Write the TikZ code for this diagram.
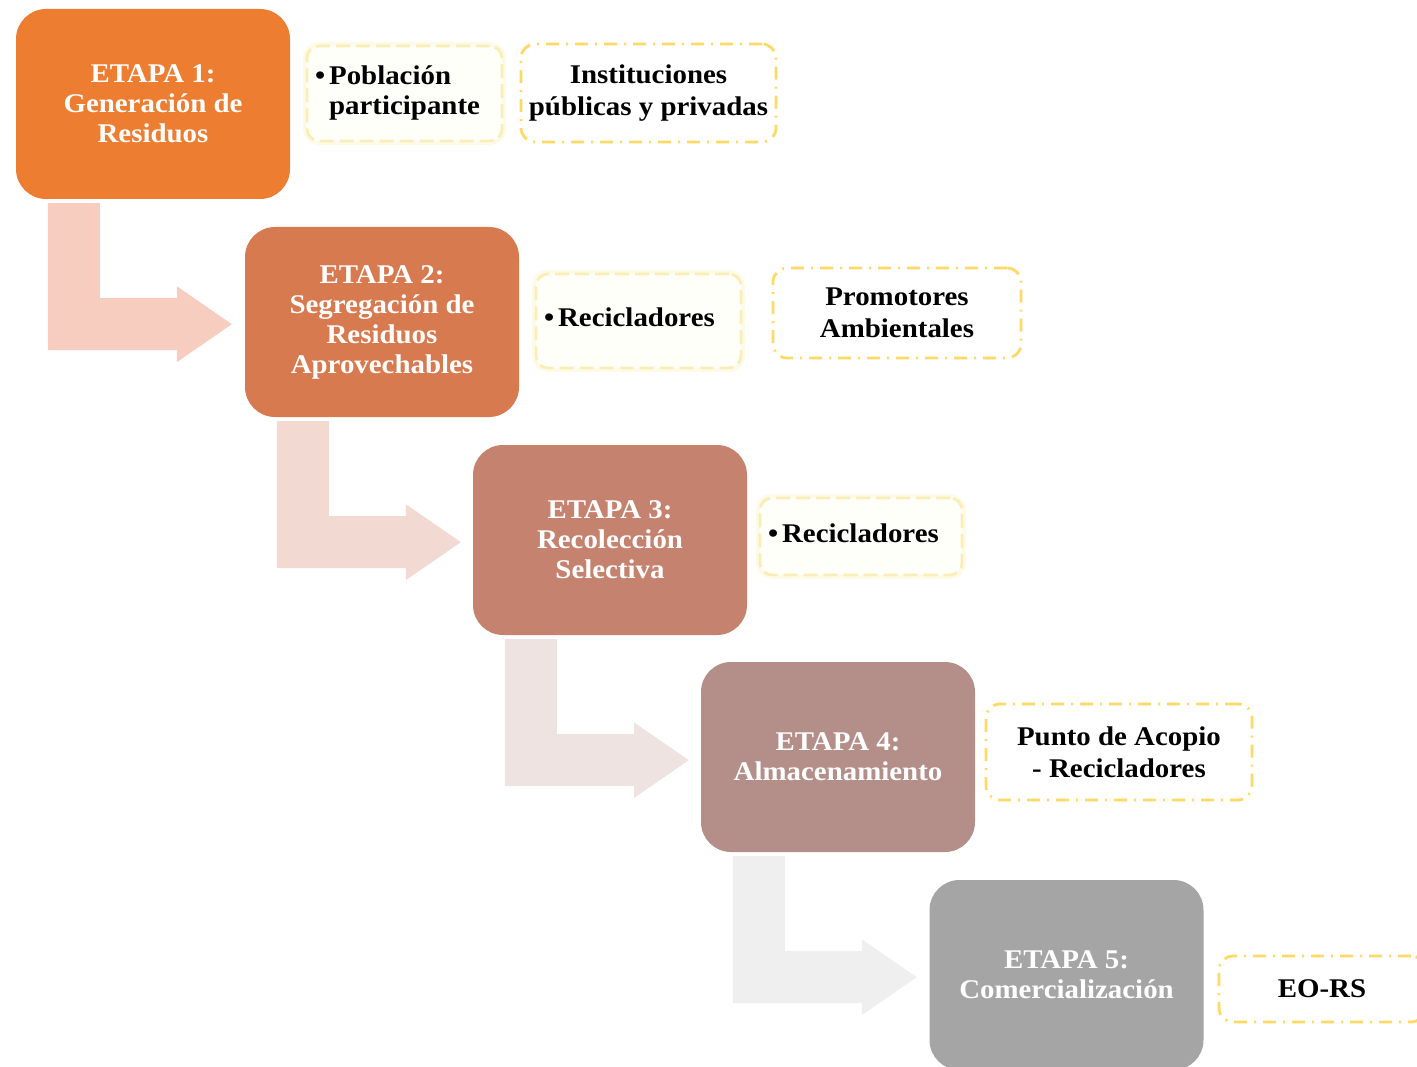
\documentclass[tikz,border=0pt]{standalone}
\usepackage{fontspec}
\setmainfont{Liberation Serif}[FakeStretch=1.07]
\definecolor{cA}{HTML}{ED7D31}
\definecolor{cB}{HTML}{D87A50}
\definecolor{cC}{HTML}{C5826F}
\definecolor{cD}{HTML}{B48E88}
\definecolor{cE}{HTML}{A5A5A5}
\definecolor{aA}{HTML}{F6CDBF}
\definecolor{aB}{HTML}{F2D9D1}
\definecolor{aC}{HTML}{EFE3E1}
\definecolor{aD}{HTML}{EFEFEF}
\definecolor{yel}{HTML}{FFD966}
\definecolor{paleyel}{HTML}{FAEDB5}
\definecolor{glowyel}{HTML}{FEFAE8}
\definecolor{fillyel}{HTML}{FFFFFA}
\newcommand\bentarrow[2]{%
  \begin{scope}[shift={(#1.south west)}]
    \fill[#2] (32,4) -- (84,4) -- (84,99) -- (161,99) -- (161,87) -- (216,125)
      -- (161,163) -- (161,151) -- (32,151) -- cycle;
  \end{scope}}
\begin{document}
\begin{tikzpicture}[x=1pt,y=-1pt,
  stage/.style={rounded corners=30pt, minimum width=274pt, minimum height=190pt,
    inner sep=0pt, text=white, font=\fontsize{27}{30}\selectfont\bfseries, align=center},
  sideb/.style={draw=yel, line width=2.8pt, dash pattern=on 13pt off 7pt on 2pt off 7pt,
    rounded corners=14pt, inner sep=0pt, font=\fontsize{27}{32}\selectfont\bfseries, align=center},
  sidea/.style={draw=paleyel, line width=2.8pt, dash pattern=on 14pt off 6pt,
    preaction={draw=glowyel, line width=8pt, solid},
    fill=fillyel, rounded corners=12pt, inner ysep=0pt, inner xsep=8pt,
    font=\fontsize{27}{30}\selectfont\bfseries, align=left}
]
\useasboundingbox (0,0) rectangle (1417,1067);
\clip (0,0) rectangle (1417,1067);
% stages
\node[stage, fill=cA] (b1) at (153,104) {ETAPA 1:\\Generación de\\Residuos};
\node[stage, fill=cB] (b2) at (382,322) {ETAPA 2:\\Segregación de\\Residuos\\Aprovechables};
\node[stage, fill=cC] (b3) at (610,540) {ETAPA 3:\\Recolección\\Selectiva};
\node[stage, fill=cD] (b4) at (838,757) {ETAPA 4:\\Almacenamiento};
\node[stage, fill=cE] (b5) at (1066.5,975) {ETAPA 5:\\Comercialización};
% bent arrows
\bentarrow{b1}{aA}
\bentarrow{b2}{aB}
\bentarrow{b3}{aC}
\bentarrow{b4}{aD}
% side boxes
\node[sidea, text width=179pt, minimum height=95pt] (s1a) at (404.5,93.5)
  {\begin{tabular}{@{}l@{\hspace{4pt}}l@{}}\textbullet & Población\\ & participante\end{tabular}};
\node[sideb, minimum width=255pt, minimum height=98pt] (s1b) at (648.5,93)
  {Instituciones\\públicas y privadas};
\node[sidea, text width=189pt, minimum height=94pt] (s2a) at (638.5,321)
  {\begin{tabular}{@{}l@{\hspace{4pt}}l@{}}\textbullet & Recicladores\end{tabular}};
\node[sideb, minimum width=248pt, minimum height=90pt] (s2b) at (897,313)
  {Promotores\\Ambientales};
\node[sidea, text width=186pt, minimum height=77pt] (s3a) at (861,536.5)
  {\begin{tabular}{@{}l@{\hspace{4pt}}l@{}}\textbullet & Recicladores\end{tabular}};
\node[sideb, minimum width=266pt, minimum height=96pt] (s4b) at (1119,752)
  {Punto de Acopio\\- Recicladores};
\node[sideb, minimum width=206pt, minimum height=66pt] (s5) at (1322,989)
  {EO-RS};
\end{tikzpicture}
\end{document}
